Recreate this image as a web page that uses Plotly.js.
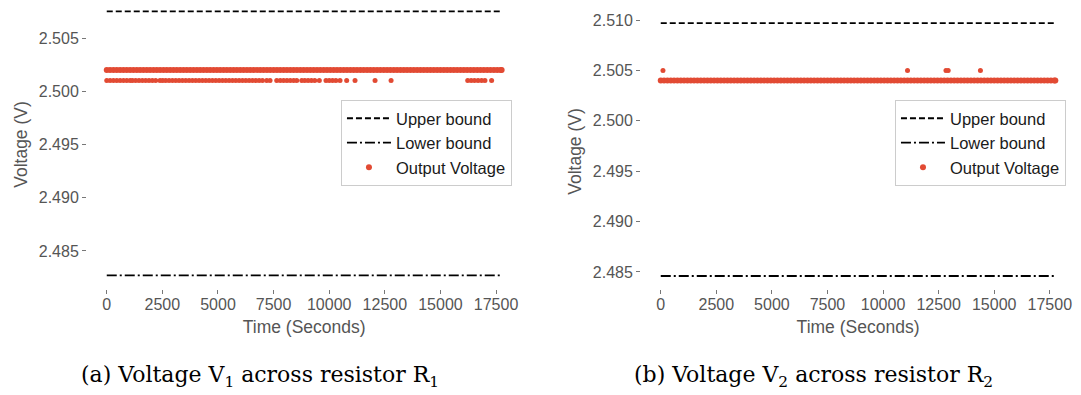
<!DOCTYPE html>
<html><head><meta charset="utf-8">
<script src="https://cdn.plot.ly/plotly-3.0.1.min.js"></script>
<style>html,body{margin:0;padding:0;background:#fff}#chart{width:1081px;height:395px}</style>
</head><body><div id="chart"></div><script>
// ---- data ----
const timeTicks = [0, 2500, 5000, 7500, 10000, 12500, 15000, 17500];
const timeTickText = ['0', '2500', '5000', '7500', '10000', '12500', '15000', '17500'];
const voltTicks1 = [2.485, 2.490, 2.495, 2.500, 2.505];
const voltTicks2 = [2.485, 2.490, 2.495, 2.500, 2.505, 2.510];
const boundTimes = [0, 17750];
const upperBound1 = [2.5075, 2.5075];
const lowerBound1 = [2.4827, 2.4827];
const upperBound2 = [2.5097, 2.5097];
const lowerBound2 = [2.4846, 2.4846];
// sampling times of the output voltage (seconds)
const sampleTimes = [0,150,300,450,600,750,900,1050,1200,1350,1500,1650,1800,1950,2100,2250,2400,2550,2700,2850,3000,3150,3300,3450,3600,3750,3900,4050,4200,4350,4500,4650,4800,4950,5100,5250,5400,5550,5700,5850,6000,6150,6300,6450,6600,6750,6900,7050,7200,7350,7500,7650,7800,7950,8100,8250,8400,8550,8700,8850,9000,9150,9300,9450,9600,9750,9900,10050,10200,10350,10500,10650,10800,10950,11100,11250,11400,11550,11700,11850,12000,12150,12300,12450,12600,12750,12900,13050,13200,13350,13500,13650,13800,13950,14100,14250,14400,14550,14700,14850,15000,15150,15300,15450,15600,15750,15900,16050,16200,16350,16500,16650,16800,16950,17100,17250,17400,17550,17700,17750];
const v1Level = 2.502;      // main reading of V1
const v1LowLevel = 2.501;   // occasional lower reading of V1
const v1LowTimes = [0,150,300,450,600,750,900,1050,1155,1300,1450,1600,1750,1900,2050,2200,2395,2515,2650,2800,2950,3100,3250,3400,3550,3700,3850,4000,4150,4300,4450,4600,4750,4900,5050,5200,5350,5500,5650,5800,5950,6100,6250,6400,6550,6700,6850,7000,7190,7340,7640,7800,7950,8100,8250,8400,8540,8765,8900,9050,9200,9350,9555,9855,10000,10150,10300,10485,10785,11160,12060,12780,16225,16380,16530,16690,16850,17000,17300];
const v2Level = 2.504;      // main reading of V2
const v2HighLevel = 2.505;  // occasional higher reading of V2
const v2HighTimes = [100, 11100, 12830, 12930, 14380];

const RED = '#E24A33';
const SANS = 'Liberation Sans, Arial, sans-serif';
const TICKFONT = {family: SANS, size: 16, color: '#555555'};
const TITLEFONT = {family: SANS, size: 17.5, color: '#555555'};

function levelSeries(times, level) { return times.map(function () { return level; }); }

function boundTrace(yv, name, dash, xa, ya, lg) {
  return {type: 'scatter', mode: 'lines', x: boundTimes, y: yv, name: name,
    line: {color: '#000000', width: 1.8, dash: dash}, xaxis: xa, yaxis: ya,
    legend: lg, showlegend: true, hoverinfo: 'skip'};
}
function markerTrace(xs, level, name, xa, ya, lg, show, size) {
  return {type: 'scatter', mode: 'markers', x: xs, y: levelSeries(xs, level), name: name,
    marker: {color: RED, size: size, line: {width: 0}}, xaxis: xa, yaxis: ya,
    legend: lg, showlegend: show};
}

const data = [
  boundTrace(upperBound1, 'Upper bound', '6px,3px', 'x', 'y', 'legend'),
  boundTrace(lowerBound1, 'Lower bound', '10px,3px,2px,3px', 'x', 'y', 'legend'),
  markerTrace(sampleTimes, v1Level, 'Output Voltage', 'x', 'y', 'legend', true, 6),
  markerTrace(v1LowTimes, v1LowLevel, 'Output Voltage', 'x', 'y', 'legend', false, 5),
  boundTrace(upperBound2, 'Upper bound', '6px,3px', 'x2', 'y2', 'legend2'),
  boundTrace(lowerBound2, 'Lower bound', '10px,3px,2px,3px', 'x2', 'y2', 'legend2'),
  markerTrace(sampleTimes, v2Level, 'Output Voltage', 'x2', 'y2', 'legend2', true, 6),
  markerTrace(v2HighTimes, v2HighLevel, 'Output Voltage', 'x2', 'y2', 'legend2', false, 5)
];

function xAxis(domain, anchor) {
  return {domain: domain, anchor: anchor, range: [-887, 18637],
    tickmode: 'array', tickvals: timeTicks, ticktext: timeTickText,
    ticks: 'outside', ticklen: 4, tickwidth: 1, tickcolor: '#777777', ticklabelstandoff: -3,
    showgrid: false, zeroline: false, showline: false, tickfont: TICKFONT,
    title: {text: 'Time (Seconds)', font: TITLEFONT, standoff: 8}};
}
function yAxis(domain, anchor, range, ticks) {
  return {domain: domain, anchor: anchor, range: range, tickmode: 'array', tickvals: ticks, tickformat: '.3f',
    ticks: 'outside', ticklen: 4, tickwidth: 1, tickcolor: '#777777',
    showgrid: false, zeroline: false, showline: false, tickfont: TICKFONT,
    title: {text: 'Voltage (V)', font: TITLEFONT, standoff: 6}};
}
const legendBase = {bgcolor: 'rgba(255,255,255,0.9)', bordercolor: '#cccccc', borderwidth: 1,
  font: {family: SANS, size: 16.5, color: '#1a1a1a'},
  xanchor: 'right', yanchor: 'top', itemwidth: 44, tracegroupgap: 0, traceorder: 'normal'};

const CAPFONT = {family: 'DejaVu Serif, Liberation Serif, serif', size: 22, color: '#000000'};
const layout = {
  width: 1081, height: 395, margin: {l: 0, r: 0, t: 0, b: 0},
  paper_bgcolor: '#ffffff', plot_bgcolor: '#ffffff', showlegend: true,
  xaxis: xAxis([0.0805, 0.4823], 'y'),
  yaxis: yAxis([0.2684, 1], 'x', [2.48143, 2.50857], voltTicks1),
  xaxis2: xAxis([0.5930, 0.9945], 'y2'),
  yaxis2: yAxis([0.2684, 0.9646], 'x2', [2.48331, 2.51060], voltTicks2),
  legend: Object.assign({x: 0.4736, y: 0.7468}, legendBase),
  legend2: Object.assign({x: 0.9861, y: 0.7468}, legendBase),
  annotations: [
    {text: '(a) Voltage V<sub>1</sub> across resistor R<sub>1</sub>', xref: 'paper', yref: 'paper',
     x: 0.2405, y: 0.0456, xanchor: 'center', yanchor: 'middle', showarrow: false, font: CAPFONT},
    {text: '(b) Voltage V<sub>2</sub> across resistor R<sub>2</sub>', xref: 'paper', yref: 'paper',
     x: 0.7521, y: 0.0456, xanchor: 'center', yanchor: 'middle', showarrow: false, font: CAPFONT}
  ]
};
Plotly.newPlot('chart', data, layout, {displayModeBar: false, staticPlot: true});
</script></body></html>
